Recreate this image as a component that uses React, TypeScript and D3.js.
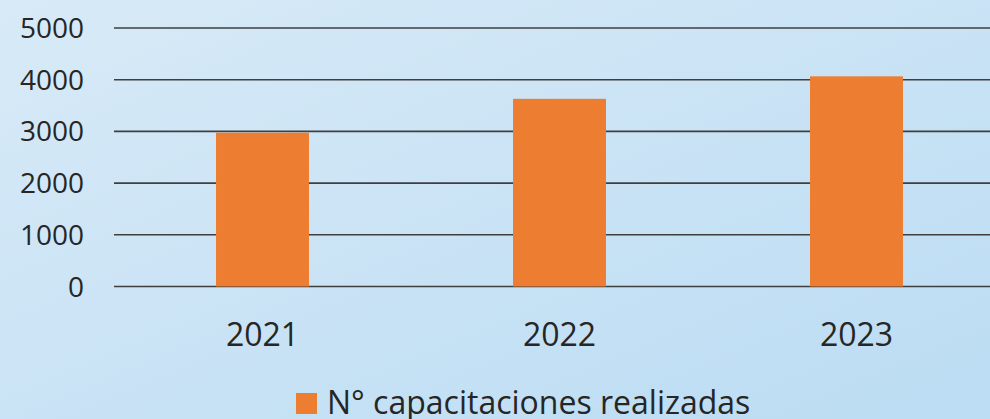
import React, { useEffect, useRef } from 'react';
import * as d3 from 'd3';

const years = ['2021', '2022', '2023'];
const capacitaciones = [2975, 3630, 4065];
const yTicks = [0, 1000, 2000, 3000, 4000, 5000];
const seriesName = 'N° capacitaciones realizadas';

const W = 990;
const H = 419;

const App = () => {
  const svgRef = useRef<SVGSVGElement | null>(null);

  useEffect(() => {
    const svg = d3.select(svgRef.current);
    svg.selectAll('*').remove();

    const font = '"Open Sans", "Noto Sans", sans-serif';
    const textColor = '#262626';

    // background gradient
    const defs = svg.append('defs');
    const grad = defs.append('linearGradient')
      .attr('id', 'bg')
      .attr('x1', '0').attr('y1', '0')
      .attr('x2', '1').attr('y2', '1');
    grad.append('stop').attr('offset', '0%').attr('stop-color', '#d8eaf7');
    grad.append('stop').attr('offset', '100%').attr('stop-color', '#bbdcf3');

    svg.append('rect').attr('width', W).attr('height', H).attr('fill', 'url(#bg)');

    const x = d3.scaleBand<string>()
      .domain(years)
      .range([114, 1005])
      .paddingInner(0.687)
      .paddingOuter(0.3435);

    const y = d3.scaleLinear().domain([0, 5000]).range([286.5, 28]);

    // gridlines
    svg.append('g')
      .selectAll('line')
      .data(yTicks)
      .join('line')
      .attr('x1', 114)
      .attr('x2', W)
      .attr('y1', d => y(d))
      .attr('y2', d => y(d))
      .attr('stroke', '#3f3f3f')
      .attr('stroke-width', 1.6);

    // y labels
    svg.append('g')
      .selectAll('text')
      .data(yTicks)
      .join('text')
      .attr('x', 84)
      .attr('y', d => y(d))
      .attr('dy', '0.36em')
      .attr('text-anchor', 'end')
      .attr('font-family', font)
      .attr('font-size', 28)
      .attr('fill', textColor)
      .text(d => String(d));

    // bars
    svg.append('g')
      .selectAll('rect')
      .data(capacitaciones)
      .join('rect')
      .attr('x', (d, i) => x(years[i])!)
      .attr('width', x.bandwidth())
      .attr('y', d => y(d))
      .attr('height', d => y(0) - y(d))
      .attr('fill', '#ed7d31');

    // x labels
    svg.append('g')
      .selectAll('text')
      .data(years)
      .join('text')
      .attr('x', d => x(d)! + x.bandwidth() / 2)
      .attr('y', 346)
      .attr('text-anchor', 'middle')
      .attr('font-family', font)
      .attr('font-size', 32)
      .attr('fill', textColor)
      .text(d => d);

    // legend (the reference crops its descenders at the bottom edge)
    const lg = svg.append('g');
    lg.append('rect')
      .attr('x', 296).attr('y', 393)
      .attr('width', 21).attr('height', 21)
      .attr('fill', '#ed7d31');
    lg.append('text')
      .attr('x', 327)
      .attr('y', 414)
      .attr('font-family', font)
      .attr('font-size', 32)
      .attr('fill', textColor)
      .text(seriesName);
  }, []);

  return (
    <div style={{ position: 'fixed', left: 0, top: 0, width: W, height: H }}>
      <svg ref={svgRef} width={W} height={H} style={{ display: 'block' }} />
    </div>
  );
};

export default App;
